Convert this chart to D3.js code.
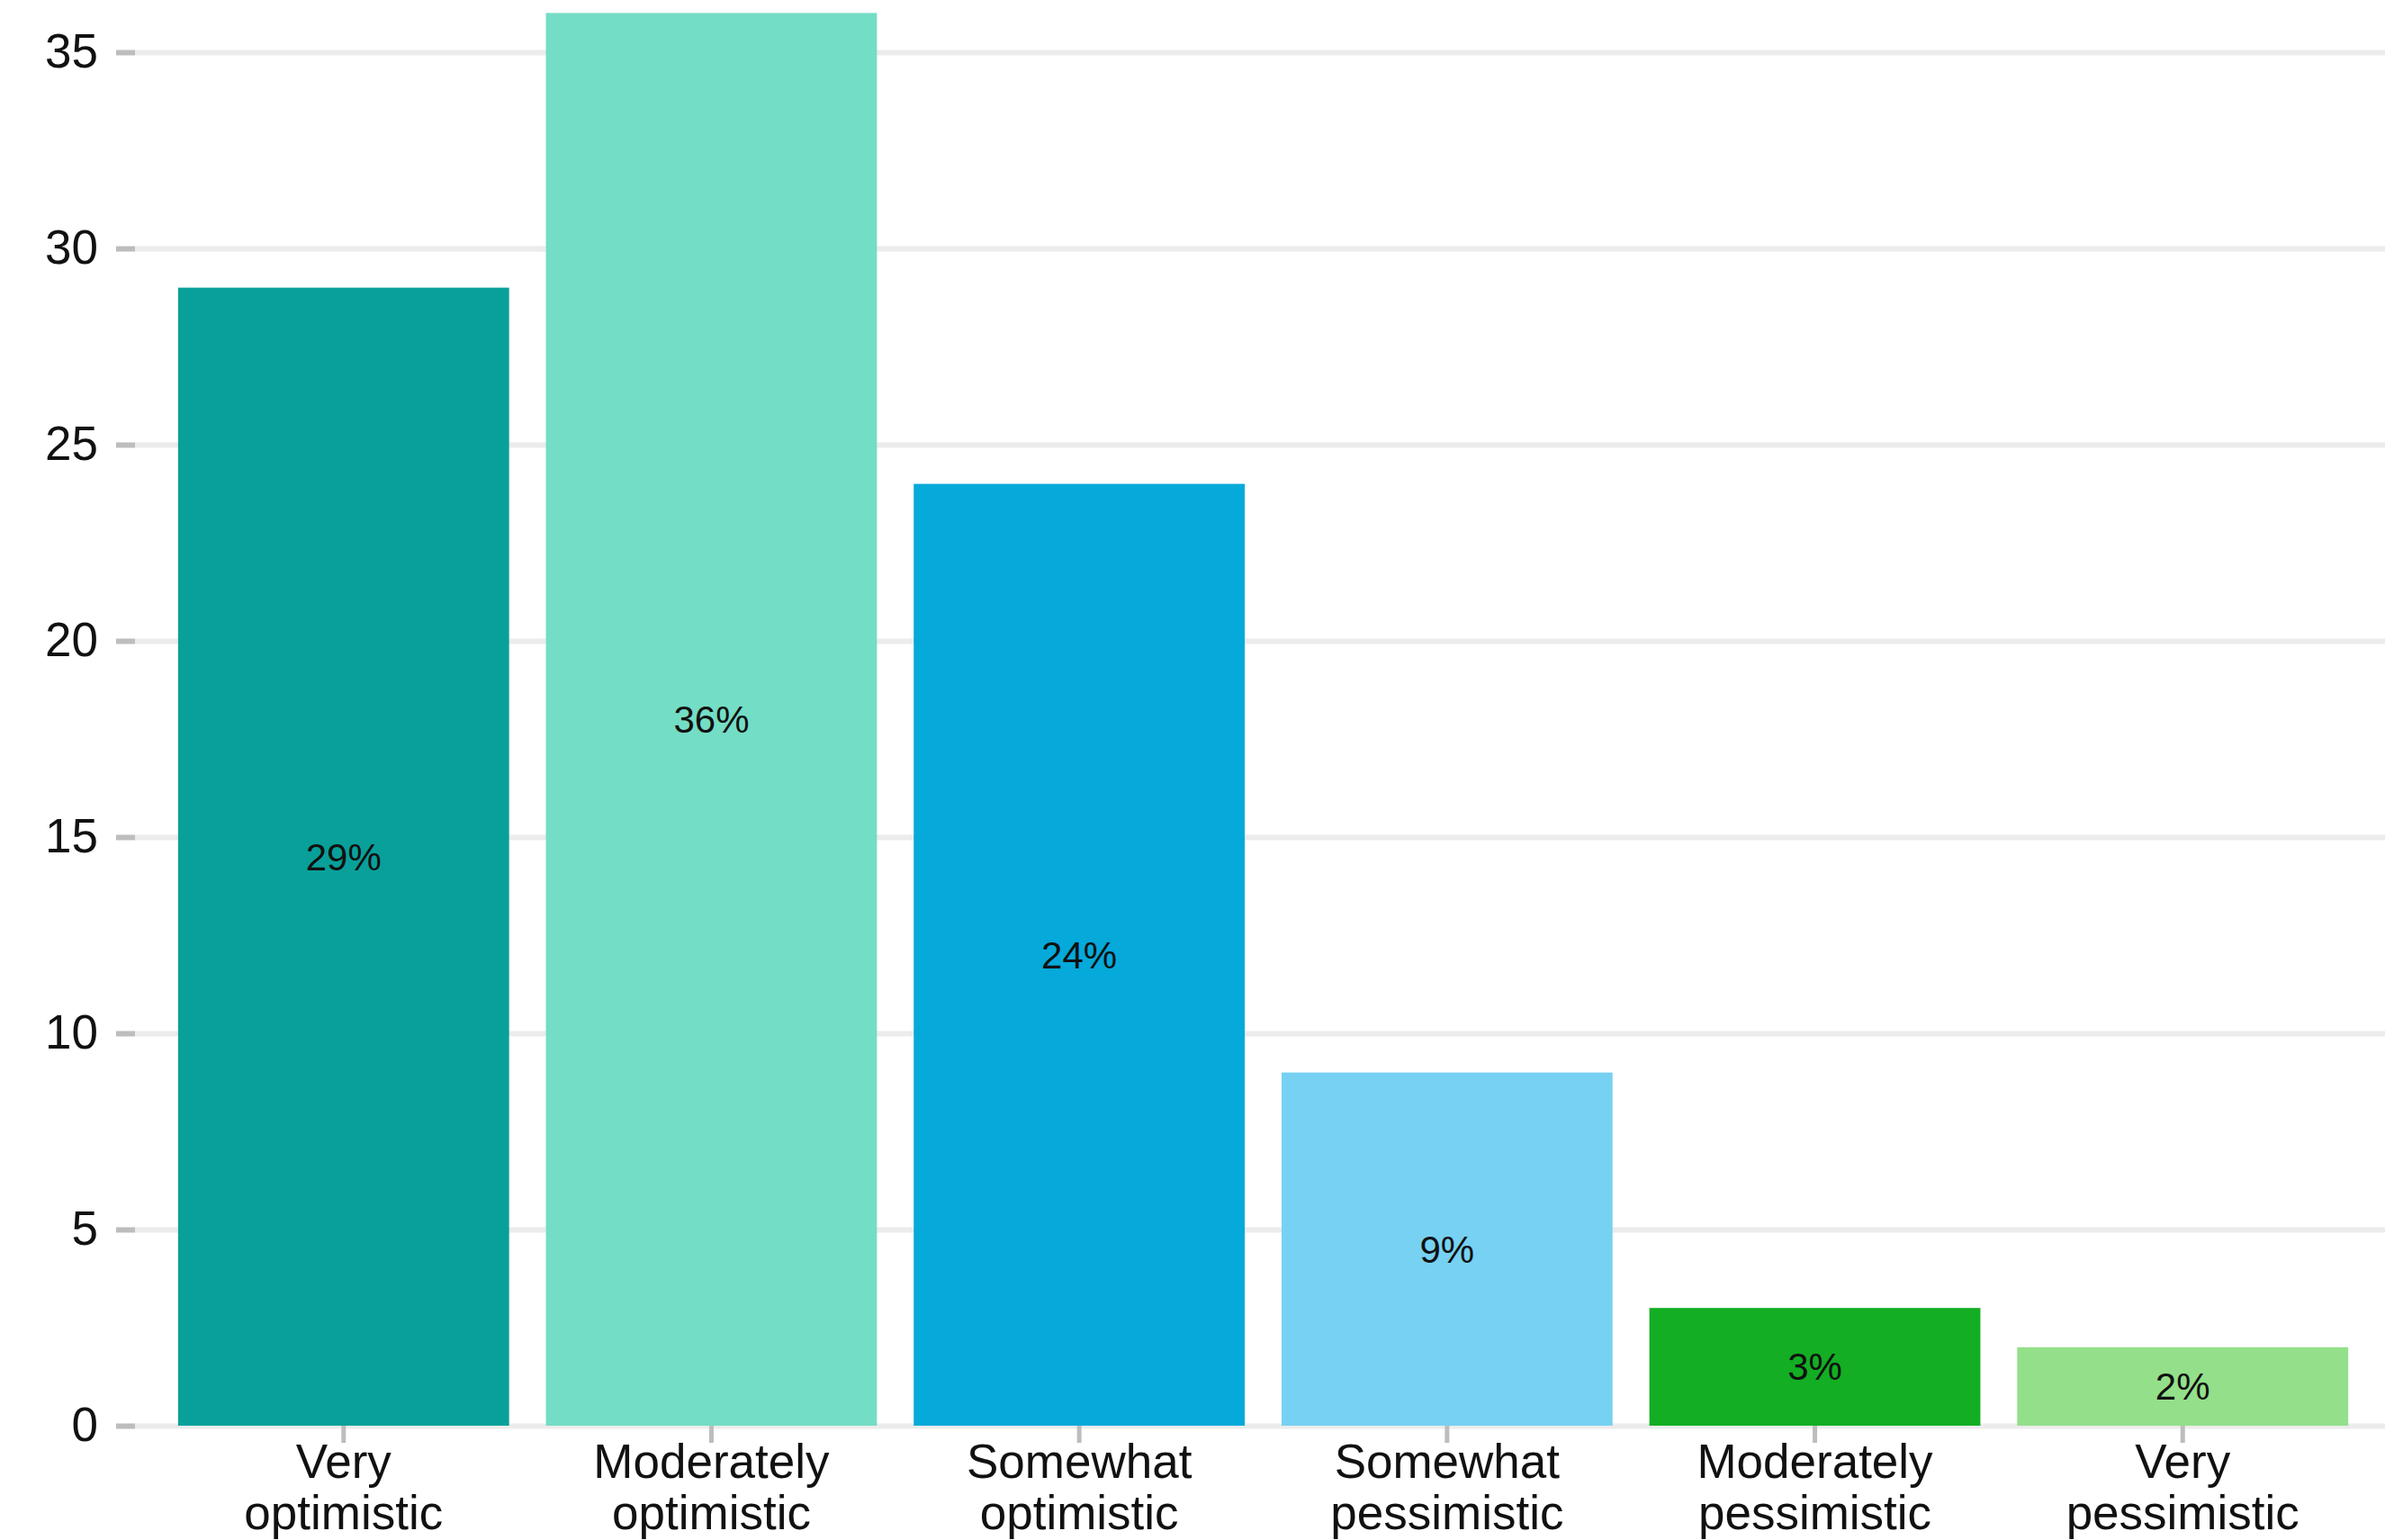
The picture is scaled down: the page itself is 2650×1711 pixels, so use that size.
<!DOCTYPE html>
<html>
<head>
<meta charset="utf-8">
<script src="https://cdn.jsdelivr.net/npm/d3@7"></script>
<style>
  body { margin: 0; background: #fff; }
  svg { display: block; font-family: "Liberation Sans", Arial, Helvetica, sans-serif; }
</style>
</head>
<body>
<script>
// chart data
var categories = ["Very optimistic", "Moderately optimistic", "Somewhat optimistic",
                  "Somewhat pessimistic", "Moderately pessimistic", "Very pessimistic"];
var values = [29, 36, 24, 9, 3, 2];
var percentLabels = ["29%", "36%", "24%", "9%", "3%", "2%"];
var barColors = ["#09a09a", "#74ddc5", "#05a9da", "#77d1f2", "#13ae24", "#94e08a"];
var yTicks = [0, 5, 10, 15, 20, 25, 30, 35];

var W = 2650, H = 1711;
var margin = {top: 58, right: 0, bottom: 127, left: 150};
var w = W - margin.left - margin.right,
    h = H - margin.top - margin.bottom;

var svg = d3.select("body")
  .append("svg")
  .attr("width", W)
  .attr("height", H);

var g = svg.append("g")
  .attr("transform", "translate(" + margin.left + "," + margin.top + ")");

var xScale = d3.scaleBand()
  .domain(categories)
  .range([7, w])
  .paddingInner(0.1)
  .paddingOuter(0.1);

var yScale = d3.scaleLinear()
  .domain([0, 35])
  .range([h, 0]);

// gridlines
var grid = g.append("g")
  .attr("class", "grid")
  .call(d3.axisLeft(yScale).tickValues(yTicks).tickSize(-w).tickFormat(""));
grid.select(".domain").remove();
grid.selectAll("line").attr("stroke", "#ececec").attr("stroke-width", 6);

// y axis ticks + labels
var yAxis = g.append("g")
  .attr("class", "axis")
  .call(d3.axisLeft(yScale).tickValues(yTicks).tickSize(21).tickPadding(20));
yAxis.select(".domain").remove();
yAxis.selectAll("line").attr("stroke", "#bdbdbd").attr("stroke-width", 6);
yAxis.selectAll("text")
  .attr("font-size", 53)
  .attr("fill", "#111")
  .attr("font-family", "Liberation Sans, Arial, sans-serif");

// bars
g.selectAll("rect.bar")
  .data(values)
  .enter().append("rect")
  .attr("class", "bar")
  .attr("x", function(d, i) { return xScale(categories[i]); })
  .attr("width", xScale.bandwidth())
  .attr("y", function(d) { return yScale(d); })
  .attr("height", function(d) { return yScale(0) - yScale(d); })
  .attr("fill", function(d, i) { return barColors[i]; });

// percent labels
g.selectAll("text.pct")
  .data(values)
  .enter().append("text")
  .attr("class", "pct")
  .attr("x", function(d, i) { return xScale(categories[i]) + xScale.bandwidth() / 2; })
  .attr("y", function(d) { return (yScale(d) + yScale(0)) / 2; })
  .attr("dy", "0.35em")
  .attr("text-anchor", "middle")
  .attr("font-size", 42)
  .attr("fill", "#111")
  .text(function(d, i) { return percentLabels[i]; });

// x axis
var xAxis = g.append("g")
  .attr("class", "axis")
  .attr("transform", "translate(0," + h + ")")
  .call(d3.axisBottom(xScale).tickSize(19).tickPadding(0).tickFormat(""));
xAxis.select(".domain").remove();
xAxis.selectAll("line").attr("stroke", "#bdbdbd").attr("stroke-width", 5);

xAxis.selectAll(".tick").each(function(d) {
  var words = d.split(" ");
  var t = d3.select(this).append("text")
    .attr("text-anchor", "middle")
    .attr("font-size", 53)
    .attr("fill", "#111");
  words.forEach(function(word, k) {
    t.append("tspan")
      .attr("x", 0)
      .attr("y", 58 + k * 57)
      .text(word);
  });
});
</script>
</body>
</html>
